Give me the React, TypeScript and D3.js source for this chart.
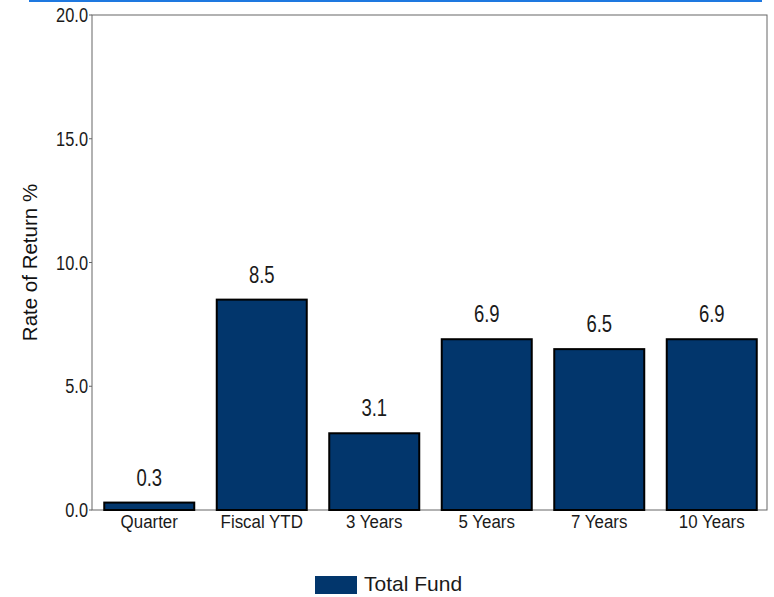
import React from "react";
import * as d3 from "d3";

const categories = ["Quarter", "Fiscal YTD", "3 Years", "5 Years", "7 Years", "10 Years"];
const values = [0.3, 8.5, 3.1, 6.9, 6.5, 6.9];
const yTicks = [0, 5, 10, 15, 20];
const seriesName = "Total Fund";

type TProps = { x: number; y: number; size: number; sx: number; anchor: "start" | "middle" | "end"; children: React.ReactNode };
function T({ x, y, size, sx, anchor, children }: TProps) {
  return (
    <text transform={`translate(${x},${y}) scale(${sx},1)`} textAnchor={anchor} fontSize={size} fill="#1a1a1a">
      {children}
    </text>
  );
}

export default function App() {
  const W = 774, H = 597;
  const m = { left: 92, top: 15, right: 767, bottom: 510 };
  const x = d3.scaleBand<string>().domain(categories).range([m.left, m.right]).paddingInner(0.2).paddingOuter(0.1);
  const y = d3.scaleLinear().domain([0, 20]).range([m.bottom, m.top]);
  const font = "'Liberation Sans', Arial, sans-serif";
  const fill = "#02366c";
  return (
    <svg width={W} height={H} style={{ position: "absolute", left: 0, top: 0 }} fontFamily={font}>
      <line x1={29} x2={762} y1={1} y2={1} stroke="#1e78e0" strokeWidth={2} />
      <rect x={m.left} y={m.top} width={m.right - m.left} height={m.bottom - m.top} fill="none" stroke="#666" strokeWidth={1} />
      {yTicks.map((t) => (
        <g key={t}>
          <line x1={m.left - 3} x2={m.left} y1={y(t)} y2={y(t)} stroke="#666" />
          <T x={m.left - 4} y={y(t) + 7} size={21} sx={0.78} anchor="end">
            {t.toFixed(1)}
          </T>
        </g>
      ))}
      {categories.map((c, i) => (
        <g key={c}>
          <rect x={x(c)! + 1} y={y(values[i])} width={x.bandwidth()} height={y(0) - y(values[i])} fill={fill} stroke="#000" strokeWidth={2} />
          <T x={x(c)! + 1 + x.bandwidth() / 2} y={y(values[i]) - 17} size={24} sx={0.77} anchor="middle">
            {values[i].toFixed(1)}
          </T>
          <T x={x(c)! + 1 + x.bandwidth() / 2} y={m.bottom + 18} size={19} sx={0.89} anchor="middle">
            {c}
          </T>
        </g>
      ))}
      <text transform={`translate(37,${(m.top + m.bottom) / 2}) rotate(-90)`} textAnchor="middle" fontSize={20.5} fill="#111">
        Rate of Return %
      </text>
      <rect x={315} y={576} width={42} height={18} fill={fill} />
      <T x={364} y={591} size={21} sx={1.0} anchor="start">{seriesName}</T>
    </svg>
  );
}
